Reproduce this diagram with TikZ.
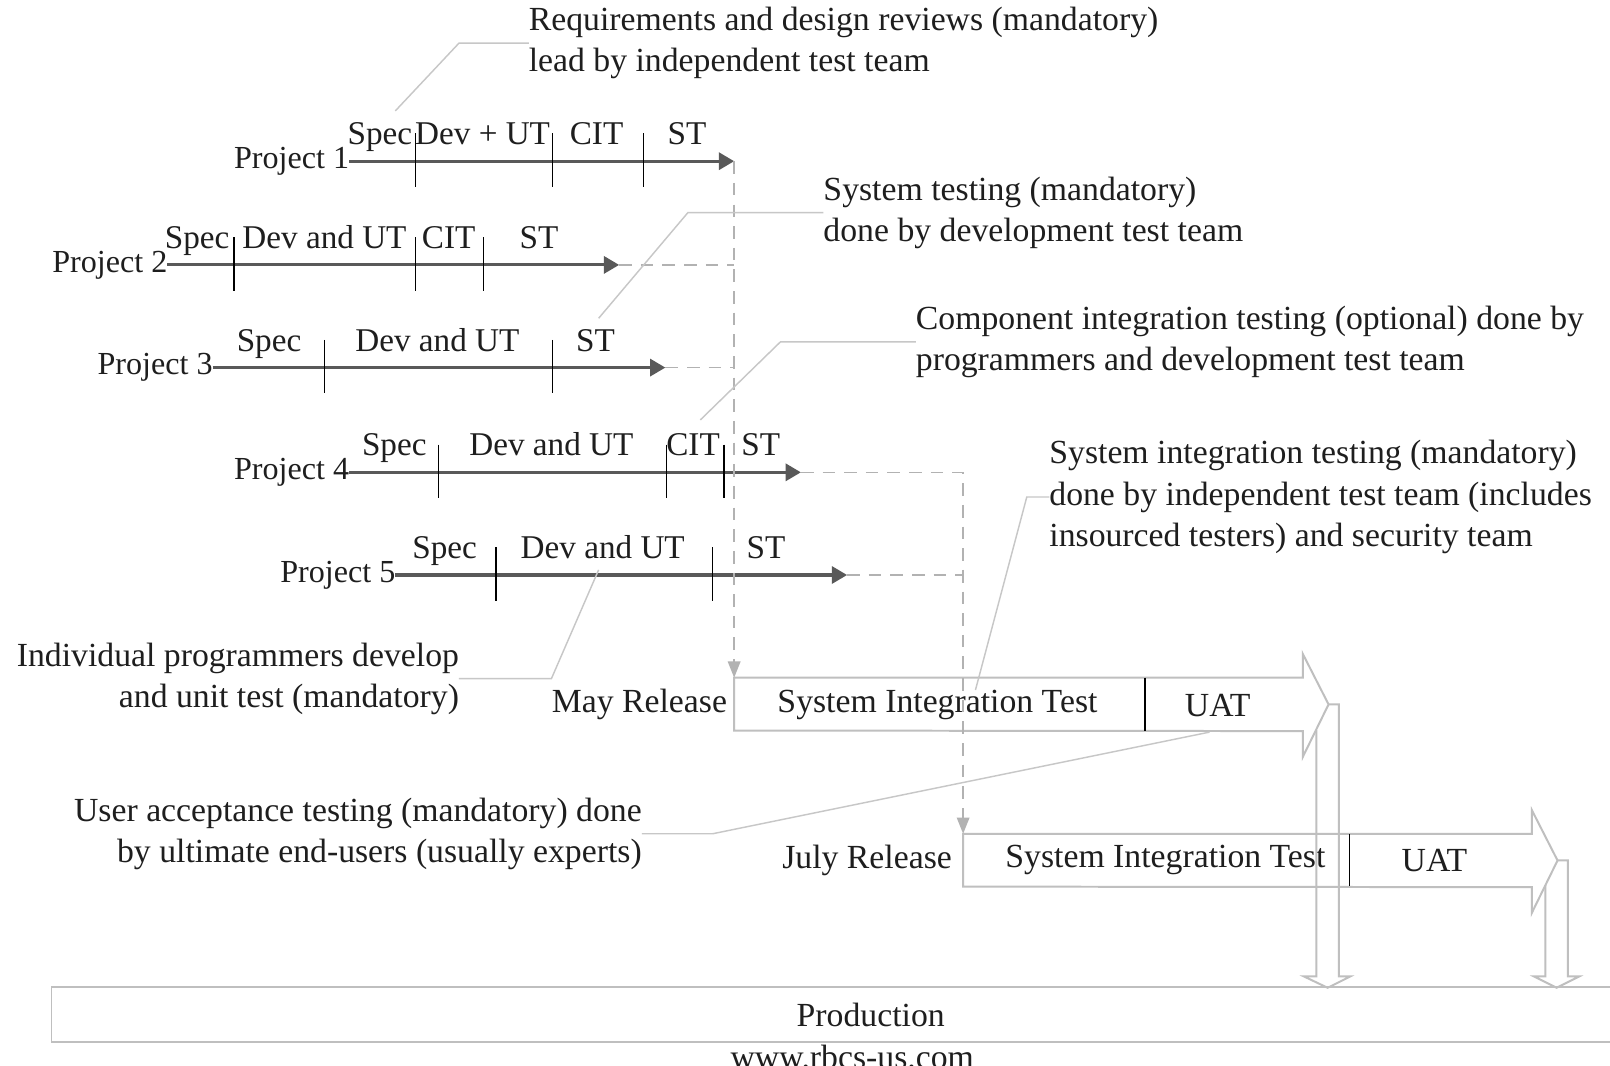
\documentclass[tikz,border=0pt]{standalone}
\usepackage{fontspec}
\setmainfont{Liberation Serif}
\usetikzlibrary{arrows.meta,positioning}
\definecolor{ink}{HTML}{1E1E1E}
\tikzstyle{lbl} = [inner sep=0pt, outer sep=0pt, text=ink, font=\fontsize{18.7}{22.8}\selectfont]
\tikzstyle{proj} = [lbl, anchor=east, font=\fontsize{17.8}{22.8}\selectfont]
\tikzstyle{phase} = [lbl, anchor=base, font=\fontsize{18.4}{22.8}\selectfont]
\tikzstyle{note} = [lbl, align=left, anchor=west]
\tikzstyle{noter} = [lbl, align=right, anchor=east]
\tikzstyle{track} = [draw=black!65, line width=1.7pt, -{Triangle[length=8.5pt,width=9.5pt]}]
\tikzstyle{tick} = [draw=black, line width=0.7pt]
\tikzstyle{wait} = [draw=black!30, line width=0.8pt, dash pattern=on 7pt off 5pt]
\tikzstyle{flow} = [wait, -{Triangle[length=9pt,width=7pt]}]
\tikzstyle{leader} = [draw=black!22, line width=0.8pt]
\tikzstyle{outline} = [draw=black!25, line width=1.1pt, line join=miter]
\tikzstyle{release} = [rectangle, inner sep=0pt, outer sep=0pt, minimum width=11.08cm, minimum height=1.03cm, anchor=north west]

\begin{document}
\begin{tikzpicture}[x=0.02cm, y=-0.02cm]
  \useasboundingbox (0,0) rectangle (1568,1038);
  \fill[white] (0,0) rectangle (1568,1038);

  \node [proj] (p1) at (340,157) {Project 1};
  \node [proj] (p2) at (163,258) {Project 2};
  \node [proj] (p3) at (207,358) {Project 3};
  \node [proj] (p4) at (340,460) {Project 4};
  \node [proj] (p5) at (385,560) {Project 5};
  \coordinate (e1) at (715,157);
  \coordinate (e2) at (603,258);
  \coordinate (e3) at (648,358);
  \coordinate (e4) at (780,460);
  \coordinate (e5) at (825,560);
  \draw [track] (p1) -- (e1);
  \draw [track] (p2) -- (e2);
  \draw [track] (p3) -- (e3);
  \draw [track] (p4) -- (e4);
  \draw [track] (p5) -- (e5);

  \draw [tick] (405,130) -- (405,182);
  \draw [tick] (538,130) -- (538,182);
  \draw [tick] (627,130) -- (627,182);
  \draw [tick] (228,231) -- (228,283);
  \draw [tick] (405,231) -- (405,283);
  \draw [tick] (471,231) -- (471,283);
  \draw [tick] (316,331) -- (316,383);
  \draw [tick] (538,331) -- (538,383);
  \draw [tick] (427,433) -- (427,485);
  \draw [tick] (649,433) -- (649,485);
  \draw [tick] (705,433) -- (705,485);
  \draw [tick] (483,533) -- (483,585);
  \draw [tick] (694,533) -- (694,585);

  \node [phase] (s1) at (370,141) {Spec};
  \node [phase] (d1) at (470,141) {Dev + UT};
  \node [phase] (c1) at (581,141) {CIT};
  \node [phase] (t1) at (669,141) {ST};
  \node [phase] (s2) at (192,242) {Spec};
  \node [phase] (d2) at (316,242) {Dev and UT};
  \node [phase] (c2) at (437,242) {CIT};
  \node [phase] (t2) at (525,242) {ST};
  \node [phase] (s3) at (262,342) {Spec};
  \node [phase] (d3) at (426,342) {Dev and UT};
  \node [phase] (t3) at (580,342) {ST};
  \node [phase] (s4) at (384,444) {Spec};
  \node [phase] (d4) at (537,444) {Dev and UT};
  \node [phase] (c4) at (675,444) {CIT};
  \node [phase] (t4) at (741,444) {ST};
  \node [phase] (s5) at (433,544) {Spec};
  \node [phase] (d5) at (587,544) {Dev and UT};
  \node [phase] (t5) at (746,544) {ST};

  \node [release] (may) at (715,660) {};
  \node [release] (july) at (938,812) {};
  \draw [outline] (may.north west) -- (may.north east) -- ++(0,-23) -- ++(25,49) -- ++(-25,51) -- ++(0,-25) -- (may.south west) -- cycle;
  \draw [outline] (july.north west) -- (july.north east) -- ++(0,-23) -- ++(25,49) -- ++(-25,51) -- ++(0,-25) -- (july.south west) -- cycle;
  \draw [tick] (1115,660) -- (1115,712);
  \draw [tick] (1314,812) -- (1314,863);
  \node [lbl] (msit) at (913,687) {System Integration Test};
  \node [lbl] (muat) at (1186,687) {UAT};
  \node [lbl] (jsit) at (1135,838) {System Integration Test};
  \node [lbl] (juat) at (1397,838) {UAT};
  \node [lbl, left=0.14cm of may] (mayl) {May Release};
  \node [lbl, left=0.22cm of july] (julyl) {July Release};

  \node [lbl, draw=black!25, line width=1.1pt, minimum width=31.92cm, minimum height=1.06cm] (prod) at (848,988) {Production};
  \node [lbl, anchor=base] (web) at (830,1041) {www.rbcs-us.com};
  \draw [outline] (1294,686) -- (1304,686) -- (1304,951) -- (1315,951) -- (1293,962) -- (1270,951) -- (1282,951) -- (1282,711);
  \draw [outline] (1517,838) -- (1527,838) -- (1527,951) -- (1538,951) -- (1516,962) -- (1494,951) -- (1505,951) -- (1505,862);

  \coordinate (j2) at (715,258);
  \coordinate (j3) at (715,358);
  \coordinate (j4) at (938,460);
  \coordinate (j5) at (938,560);
  \draw [flow] (e1) -- (may.north west);
  \draw [wait] (e2) -- (j2);
  \draw [wait] (e3) -- (j3);
  \draw [flow] (e4) -- (j4) -- (july.north west);
  \draw [wait] (e5) -- (j5);

  \node [note] (n1) at (515,42) {Requirements and design reviews (mandatory)\\lead by independent test team};
  \node [note] (n2) at (802,207) {System testing (mandatory)\\done by development test team};
  \node [note] (n3) at (892,333) {Component integration testing (optional) done by\\programmers and development test team};
  \node [note] (n4) at (1022,484) {System integration testing (mandatory)\\done by independent test team (includes\\insourced testers) and security team};
  \node [noter] (n5) at (447,661) {Individual programmers develop\\and unit test (mandatory)};
  \node [noter] (n6) at (625,812) {User acceptance testing (mandatory) done\\by ultimate end-users (usually experts)};
  \coordinate (k1) at (447,42);
  \coordinate (r1) at (385,108);
  \coordinate (k2) at (670,207);
  \coordinate (r2) at (583,310);
  \coordinate (k3) at (760,333);
  \coordinate (r3) at (682,409);
  \coordinate (k4) at (1000,484);
  \coordinate (r4) at (950,672);
  \coordinate (k5) at (537,661);
  \coordinate (r5) at (583,555);
  \coordinate (k6) at (694,812);
  \coordinate (r6) at (1178,713);
  \draw [leader] (n1.west) -- (k1) -- (r1);
  \draw [leader] (n2.west) -- (k2) -- (r2);
  \draw [leader] (n3.west) -- (k3) -- (r3);
  \draw [leader] (n4.west) -- (k4) -- (r4);
  \draw [leader] (n5.east) -- (k5) -- (r5);
  \draw [leader] (n6.east) -- (k6) -- (r6);
\end{tikzpicture}
\end{document}
